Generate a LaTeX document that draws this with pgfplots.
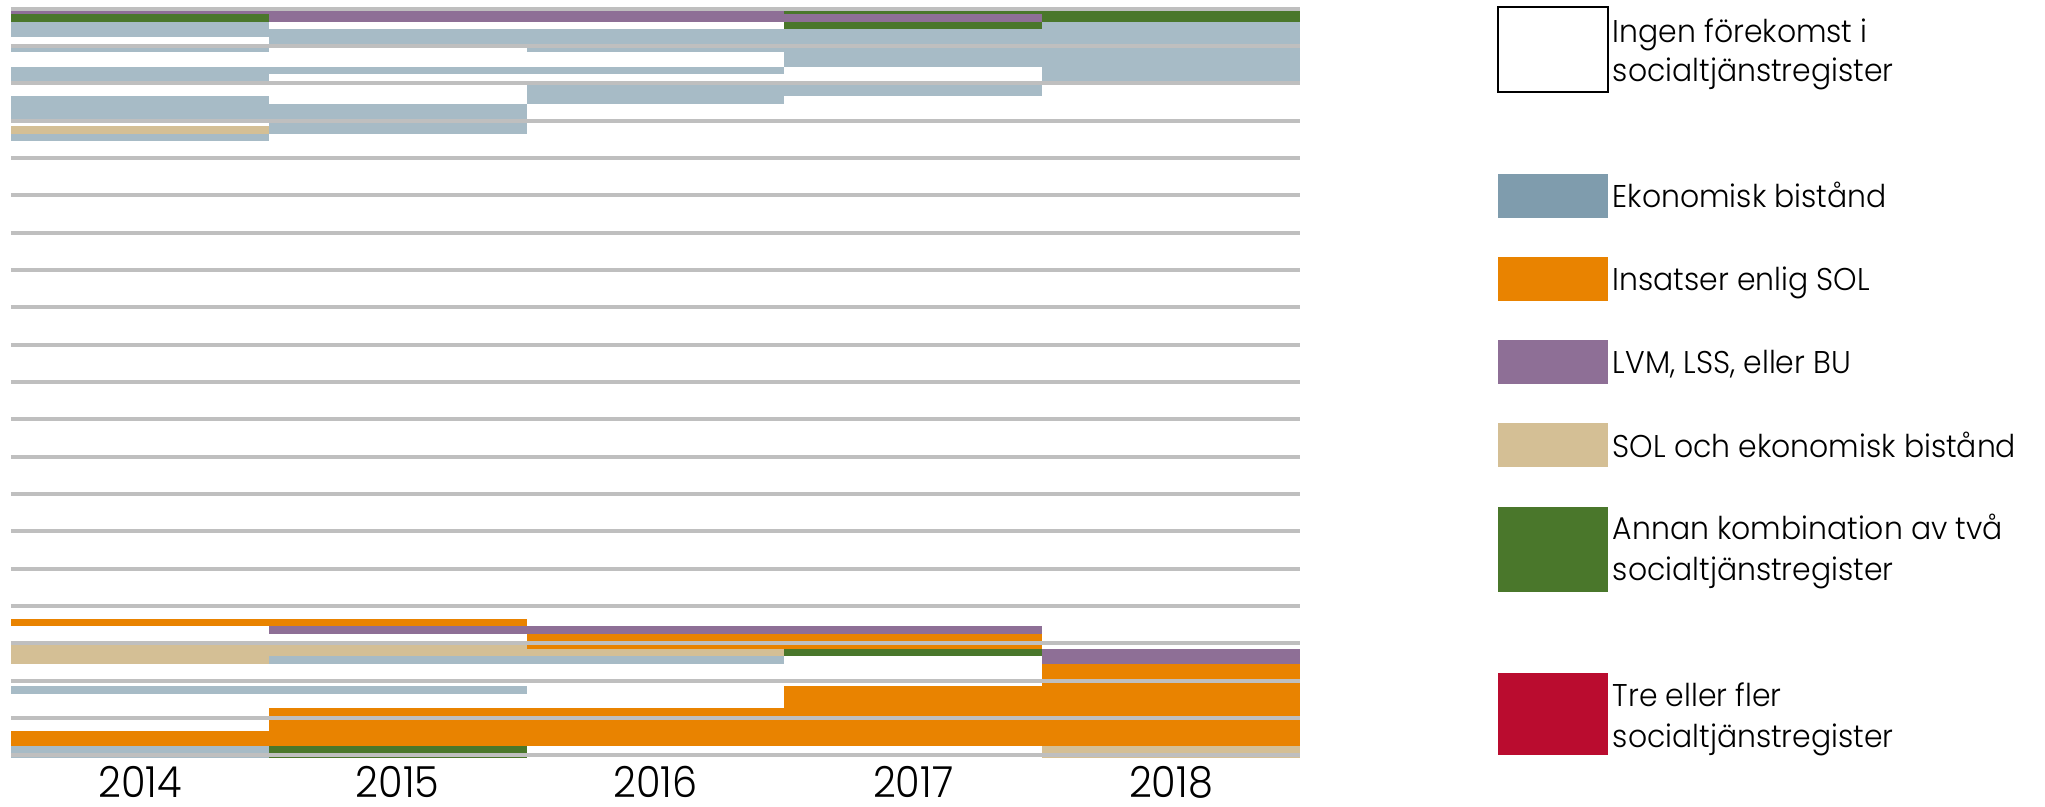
\documentclass[border=0pt]{standalone}
\usepackage{fontspec}
\setmainfont{Poppins}
\newfontfamily\legfont{Poppins}[UprightFont=* Light, FakeStretch=0.95]
\newfontfamily\yearfont{Poppins}[UprightFont=* Light, FakeStretch=0.93]
\usepackage{pgfplots}
\pgfplotsset{compat=1.18}

\definecolor{eko}{HTML}{A7BBC6}
\definecolor{ekoleg}{HTML}{7F9CAD}
\definecolor{sol}{HTML}{E98300}
\definecolor{lvm}{HTML}{8E6F96}
\definecolor{solek}{HTML}{D4BF95}
\definecolor{annan}{HTML}{4A772B}
\definecolor{tre}{HTML}{BA0C2F}
\definecolor{gridgray}{HTML}{BFBFBF}

% one segment = a bar from 0 up to the segment's top; drawn top-down so lower ones cover
\newcommand{\seg}[3]{\addplot[seg, fill=#1] coordinates {(#2,#3)};}

\begin{document}
\begin{tikzpicture}
\useasboundingbox (0,0) rectangle (511.25pt,-201.5pt);
\begin{axis}[
    at={(2.75pt,-189.425pt)}, anchor=south west,
    scale only axis, width=322.25pt, height=187.6pt,
    xmin=2013.5, xmax=2018.5, ymin=0, ymax=100.5,
    axis on top,
    axis line style={draw=none},
    tick style={draw=none},
    ytick={0.3,5.3,10.3,15.3,20.3,25.3,30.3,35.3,40.3,45.3,50.3,55.3,60.3,65.3,70.3,75.3,80.3,85.3,90.3,95.3,100.3},
    yticklabels={},
    ymajorgrids,
    grid style={line width=1pt, color=gridgray},
    xtick={2014,2015,2016,2017,2018},
    xticklabels={2014,2015,2016,2017,2018},
    /pgf/number format/assume math mode=true,
    xticklabel style={font=\yearfont\fontsize{10.7}{12}\selectfont, anchor=base, yshift=-10pt, inner sep=0pt},
    seg/.style={ybar, bar width=1, bar shift=0pt, draw=none},
]
% 2014
\seg{lvm}{2014}{100}
\seg{annan}{2014}{99.60}
\seg{eko}{2014}{98.53}
\seg{white}{2014}{96.56}
\seg{eko}{2014}{95.31}
\seg{white}{2014}{94.51}
\seg{eko}{2014}{92.50}
\seg{white}{2014}{90.22}
\seg{eko}{2014}{88.62}
\seg{white}{2014}{85.13}
\seg{solek}{2014}{84.60}
\seg{eko}{2014}{83.53}
\seg{white}{2014}{82.59}
\seg{sol}{2014}{18.58}
\seg{white}{2014}{17.68}
\seg{solek}{2014}{15.53}
\seg{white}{2014}{12.59}
\seg{eko}{2014}{9.60}
\seg{white}{2014}{8.53}
\seg{sol}{2014}{3.58}
\seg{eko}{2014}{1.57}
% 2015
\seg{lvm}{2015}{100}
\seg{white}{2015}{98.53}
\seg{eko}{2015}{97.59}
\seg{white}{2015}{95.31}
\seg{eko}{2015}{92.50}
\seg{white}{2015}{91.56}
\seg{eko}{2015}{87.55}
\seg{white}{2015}{83.53}
\seg{sol}{2015}{18.58}
\seg{lvm}{2015}{17.68}
\seg{white}{2015}{16.61}
\seg{solek}{2015}{15.53}
\seg{eko}{2015}{13.62}
\seg{white}{2015}{12.59}
\seg{eko}{2015}{9.60}
\seg{white}{2015}{8.53}
\seg{sol}{2015}{6.66}
\seg{annan}{2015}{1.57}
% 2016
\seg{lvm}{2016}{100}
\seg{white}{2016}{98.53}
\seg{eko}{2016}{97.59}
\seg{white}{2016}{94.51}
\seg{eko}{2016}{92.50}
\seg{white}{2016}{91.56}
\seg{eko}{2016}{90.36}
\seg{white}{2016}{87.55}
\seg{lvm}{2016}{17.68}
\seg{sol}{2016}{16.61}
\seg{solek}{2016}{14.56}
\seg{eko}{2016}{13.62}
\seg{white}{2016}{12.59}
\seg{sol}{2016}{6.66}
\seg{white}{2016}{1.57}
% 2017
\seg{annan}{2017}{100}
\seg{lvm}{2017}{99.60}
\seg{annan}{2017}{98.53}
\seg{eko}{2017}{97.59}
\seg{white}{2017}{92.50}
\seg{eko}{2017}{90.36}
\seg{white}{2017}{88.62}
\seg{lvm}{2017}{17.68}
\seg{sol}{2017}{16.61}
\seg{annan}{2017}{14.56}
\seg{white}{2017}{13.62}
\seg{sol}{2017}{9.60}
\seg{white}{2017}{1.57}
% 2018
\seg{annan}{2018}{100}
\seg{eko}{2018}{98.53}
\seg{white}{2018}{90.22}
\seg{lvm}{2018}{14.56}
\seg{sol}{2018}{12.59}
\seg{solek}{2018}{1.57}
\end{axis}

% legend, in pixel units of the reference
\begin{scope}[x=0.25pt, y=-0.25pt, every node/.style={anchor=base west, inner sep=0pt, font=\legfont\fontsize{7.86}{10}\selectfont}]
\draw[line width=0.4pt, fill=white] (1498,7) rectangle (1608,92);
\node at (1612,42) {Ingen förekomst i};
\node at (1612,81) {socialtjänstregister};
\fill[ekoleg] (1498,174) rectangle (1608,218);
\node at (1612,207) {Ekonomisk bistånd};
\fill[sol] (1498,257) rectangle (1608,301);
\node at (1612,290) {Insatser enlig SOL};
\fill[lvm] (1498,340) rectangle (1608,384);
\node at (1612,373) {LVM, LSS, eller BU};
\fill[solek] (1498,423) rectangle (1608,467);
\node at (1612,457) {SOL och ekonomisk bistånd};
\fill[annan] (1498,507) rectangle (1608,592);
\node at (1612,539) {Annan kombination av två};
\node at (1612,580) {socialtjänstregister};
\fill[tre] (1498,673) rectangle (1608,755);
\node at (1612,706) {Tre eller fler};
\node at (1612,747) {socialtjänstregister};
\end{scope}
\end{tikzpicture}
\end{document}
